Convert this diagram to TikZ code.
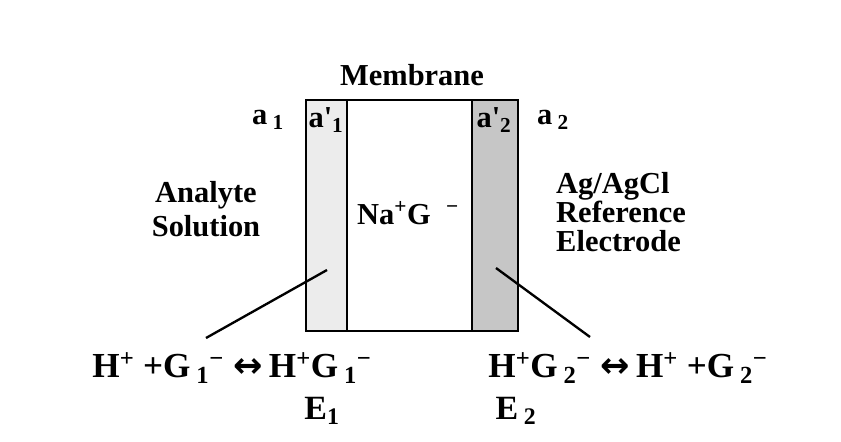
\documentclass[tikz,border=0pt]{standalone}
\usepackage{fontspec}
\setmainfont{Liberation Serif}
\newfontfamily\arrowfont{DejaVu Sans}
\usepackage{tikz}
\usetikzlibrary{positioning}

\definecolor{layerlight}{HTML}{ECECEC}
\definecolor{layerdark}{HTML}{C6C6C6}

\tikzset{
  lbl/.style={font=\fontsize{26}{25}\selectfont\bfseries, inner sep=0pt},
  eqn/.style={font=\fontsize{30}{30}\selectfont\bfseries, inner sep=0pt},
  wall/.style={line width=2.4pt},
  leader/.style={line width=2pt}
}
\newcommand{\eqarrow}{\;{\arrowfont\bfseries ↔}\,}

\begin{document}
\begin{tikzpicture}[x=0.03cm, y=-0.03cm]
			\useasboundingbox (0,0) rectangle (841,441);
			\fill[white] (0,0) rectangle (841,441);
			% membrane with its two surface layers
			\filldraw[fill=layerlight, wall] (306,100) rectangle (347,331);
			\filldraw[fill=layerdark, wall] (472,100) rectangle (518,331);
			\draw[wall] (306,100) rectangle (518,331);
			\coordinate (hitL) at (327,270);
			\coordinate (hitR) at (496,268);
			\node[lbl] (memb) at (412,75) {Membrane};
			\node[lbl] (a1) at (268,120) {a\,\textsubscript{1}};
			\node[lbl] (a1p) at (326,120) {a\textquotesingle\textsubscript{1}};
			\node[lbl] (a2p) at (494,120) {a\textquotesingle\textsubscript{2}};
			\node[lbl] (a2) at (553,120) {a\,\textsubscript{2}};
			\node[lbl, align=center, font=\fontsize{26}{29}\selectfont\bfseries] (analyte) at (206,209) {Analyte\\Solution};
			\node[lbl] (nag) at (408,213) {Na\textsuperscript{+}G\enspace\textsuperscript{−}};
			\node[lbl, align=left, anchor=west] (ref) at (556,212) {Ag/AgCl\\Reference\\Electrode};
			% equilibria at the two interfaces
			\node[eqn] (eqL) at (232,368) {H\textsuperscript{+} +G\,\textsubscript{1}\textsuperscript{−}\eqarrow H\textsuperscript{+}G\,\textsubscript{1}\textsuperscript{−}};
			\node[eqn] (eqR) at (628,368) {H\textsuperscript{+}G\,\textsubscript{2}\textsuperscript{−}\eqarrow H\textsuperscript{+} +G\,\textsubscript{2}\textsuperscript{−}};
			\node[eqn, font=\fontsize{29}{29}\selectfont\bfseries] (e1) at (322,411) {E\textsubscript{1}};
			\node[eqn, font=\fontsize{29}{29}\selectfont\bfseries] (e2) at (516,411) {E\,\textsubscript{2}};
			\coordinate (endL) at (206,338);
			\coordinate (endR) at (590,337);
			\draw[leader] (endL) -- (hitL);
			\draw[leader] (hitR) -- (endR);
		\end{tikzpicture}
\end{document}
